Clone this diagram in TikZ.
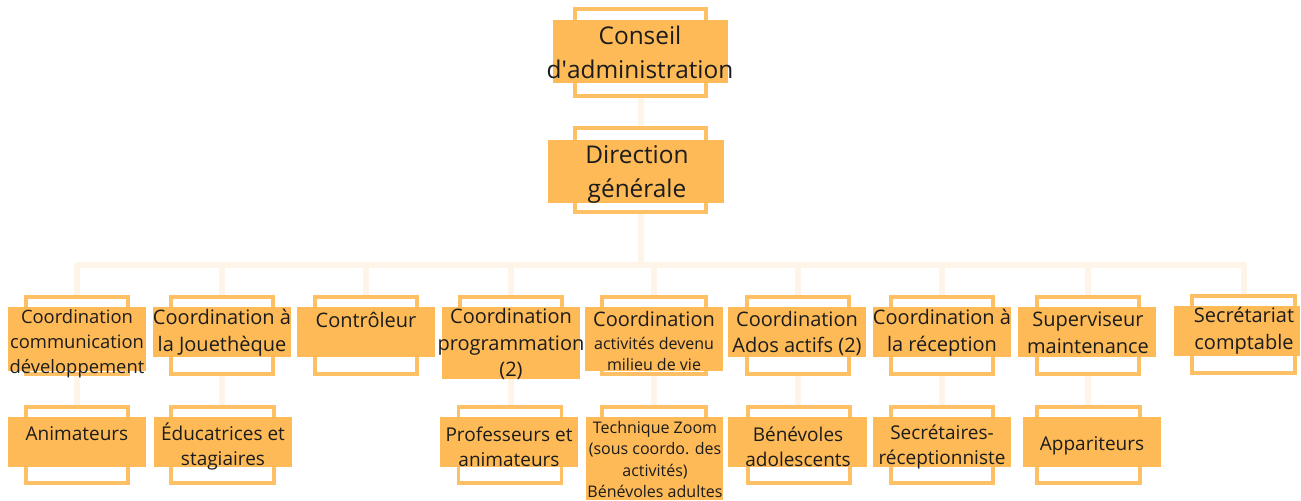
\documentclass[tikz,border=0pt]{standalone}
\usepackage{fontspec}
\setmainfont{Open Sans}
\usetikzlibrary{backgrounds}
\definecolor{orgfill}{HTML}{FDBA56}
\definecolor{orgline}{HTML}{FDC064}
\definecolor{orglink}{HTML}{FEF4E8}
\definecolor{orgtext}{HTML}{1C1C1C}
\begin{document}
\begin{tikzpicture}[x=0.5pt,y=-0.5pt,
  frame/.style={draw=orgline,line width=1.75pt,fill=white,inner sep=0pt},
  slab/.style={fill=orgfill,inner sep=0pt},
  txt/.style={inner sep=0pt,align=center,text=orgtext},
  bigtxt/.style={txt,font=\fontsize{12.2}{17}\selectfont},
  midtxt/.style={txt,font=\fontsize{10}{13.3}\selectfont},
  lowtxt/.style={txt,font=\fontsize{9.5}{12.5}\selectfont},
  tinytxt/.style={txt,font=\fontsize{8}{10.75}\selectfont},
  link/.style={draw=orglink,line width=3pt,line cap=round,line join=round}]
\useasboundingbox (0,0) rectangle (1301,500);
% top
\node[frame,minimum width=65.5pt,minimum height=43.5pt] (ca) at (640.5,52.5) {};
\node[slab,minimum width=87.5pt,minimum height=31.5pt] (ca-f) at (640.5,51.5) {};
\node[bigtxt] (ca-t) at (640,52) {Conseil\\d\textquotesingle administration};
\node[frame,minimum width=65.5pt,minimum height=42pt] (dg) at (640.5,170) {};
\node[slab,minimum width=88pt,minimum height=31.5pt] (dg-f) at (636,171.5) {};
\node[bigtxt] (dg-t) at (637,174) {Direction\\générale};
% coordinations
\node[frame,minimum width=51pt,minimum height=38.5pt] (comm) at (77,335.5) {};
\node[slab,minimum width=69pt,minimum height=32pt] (comm-f) at (77,339) {};
\node[txt,font=\fontsize{9.2}{12.5}\selectfont] (comm-t) at (77,344) {Coordination\\communication\\développement};
\node[frame,minimum width=51pt,minimum height=38.5pt] (joue) at (222,335.5) {};
\node[slab,minimum width=69pt,minimum height=25pt] (joue-f) at (222,332) {};
\node[midtxt] (joue-t) at (222,333) {Coordination à\\la Jouethèque};
\node[frame,minimum width=51pt,minimum height=38.5pt] (ctrl) at (366,335.5) {};
\node[slab,minimum width=69pt,minimum height=25pt] (ctrl-f) at (366,332) {};
\node[midtxt] (ctrl-t) at (366,320) {Contrôleur};
\node[frame,minimum width=51pt,minimum height=38.5pt] (prog) at (511,335.5) {};
\node[slab,minimum width=69pt,minimum height=36pt] (prog-f) at (511,343) {};
\node[midtxt] (prog-t) at (511,344) {Coordination\\programmation\\(2)};
\node[frame,minimum width=52pt,minimum height=38.5pt] (milieu) at (654,335.5) {};
\node[slab,minimum width=69pt,minimum height=32pt] (milieu-f) at (654,339) {};
\node[midtxt] (milieu-t) at (654,341) {Coordination\\[-2pt]{\fontsize{8}{10}\selectfont activités devenu}\\[-3pt]{\fontsize{8}{10}\selectfont milieu de vie}};
\node[frame,minimum width=51pt,minimum height=38.5pt] (ados) at (798,335.5) {};
\node[slab,minimum width=69pt,minimum height=25pt] (ados-f) at (797,332) {};
\node[midtxt] (ados-t) at (797,333.5) {Coordination\\Ados actifs (2)};
\node[frame,minimum width=51pt,minimum height=38.5pt] (recep) at (942,335.5) {};
\node[slab,minimum width=69pt,minimum height=25pt] (recep-f) at (942,332) {};
\node[midtxt] (recep-t) at (942,333) {Coordination à\\la réception};
\node[frame,minimum width=51pt,minimum height=38.5pt] (maint) at (1088,335.5) {};
\node[slab,minimum width=69pt,minimum height=25pt] (maint-f) at (1087,332) {};
\node[midtxt] (maint-t) at (1088,333) {Superviseur\\maintenance};
\node[frame,minimum width=51.5pt,minimum height=38.5pt] (compta) at (1243.5,334.5) {};
\node[slab,minimum width=63pt,minimum height=25pt] (compta-f) at (1237,331) {};
\node[midtxt] (compta-t) at (1244,331) {Secrétariat\\comptable};
% equipes
\node[frame,minimum width=51pt,minimum height=38pt] (anim) at (77,445) {};
\node[slab,minimum width=69pt,minimum height=25pt] (anim-f) at (77,442) {};
\node[lowtxt] (anim-t) at (77,434) {Animateurs};
\node[frame,minimum width=51.5pt,minimum height=38pt] (educ) at (222.5,445) {};
\node[slab,minimum width=69pt,minimum height=25pt] (educ-f) at (223,442) {};
\node[lowtxt] (educ-t) at (223,446.5) {Éducatrices et\\stagiaires};
\node[frame,minimum width=51.5pt,minimum height=38pt] (prof) at (510,445) {};
\node[slab,minimum width=69pt,minimum height=25pt] (prof-f) at (509,442) {};
\node[lowtxt] (prof-t) at (509,446.5) {Professeurs et\\animateurs};
\node[frame,minimum width=52pt,minimum height=38pt] (zoom) at (654,445) {};
\node[slab,minimum width=68.5pt,minimum height=41.5pt] (zoom-f) at (654.5,458.5) {};
\node[tinytxt] (zoom-t) at (655,459.5) {Technique Zoom\\(sous coordo. des\\activités)\\Bénévoles adultes};
\node[frame,minimum width=51pt,minimum height=38pt] (benev) at (799,445) {};
\node[slab,minimum width=69.5pt,minimum height=25pt] (benev-f) at (797.5,442) {};
\node[lowtxt] (benev-t) at (798,447) {Bénévoles\\adolescents};
\node[frame,minimum width=51pt,minimum height=38pt] (secr) at (942,445) {};
\node[slab,minimum width=69pt,minimum height=25pt] (secr-f) at (942,442) {};
\node[lowtxt] (secr-t) at (942,446.5) {Secrétaires-\\réceptionniste};
\node[frame,minimum width=51.5pt,minimum height=38pt] (appar) at (1088.5,445) {};
\node[slab,minimum width=69pt,minimum height=25pt] (appar-f) at (1092,442) {};
\node[lowtxt] (appar-t) at (1092,445.5) {Appariteurs};
% liens
\coordinate (bar) at (640.5,265);
\begin{scope}[on background layer]
\draw[link] (ca) -- (dg);
\draw[link] (dg) -- (bar);
\foreach \n in {comm,joue,ctrl,prog,milieu,ados,recep,maint,compta}
  \draw[link] (bar) -| (\n);
\foreach \a/\b in {comm/anim,joue/educ,prog/prof,milieu/zoom,ados/benev,recep/secr,maint/appar}
  \draw[link] (\a) -- (\a |- \b);
\end{scope}
\end{tikzpicture}
\end{document}
